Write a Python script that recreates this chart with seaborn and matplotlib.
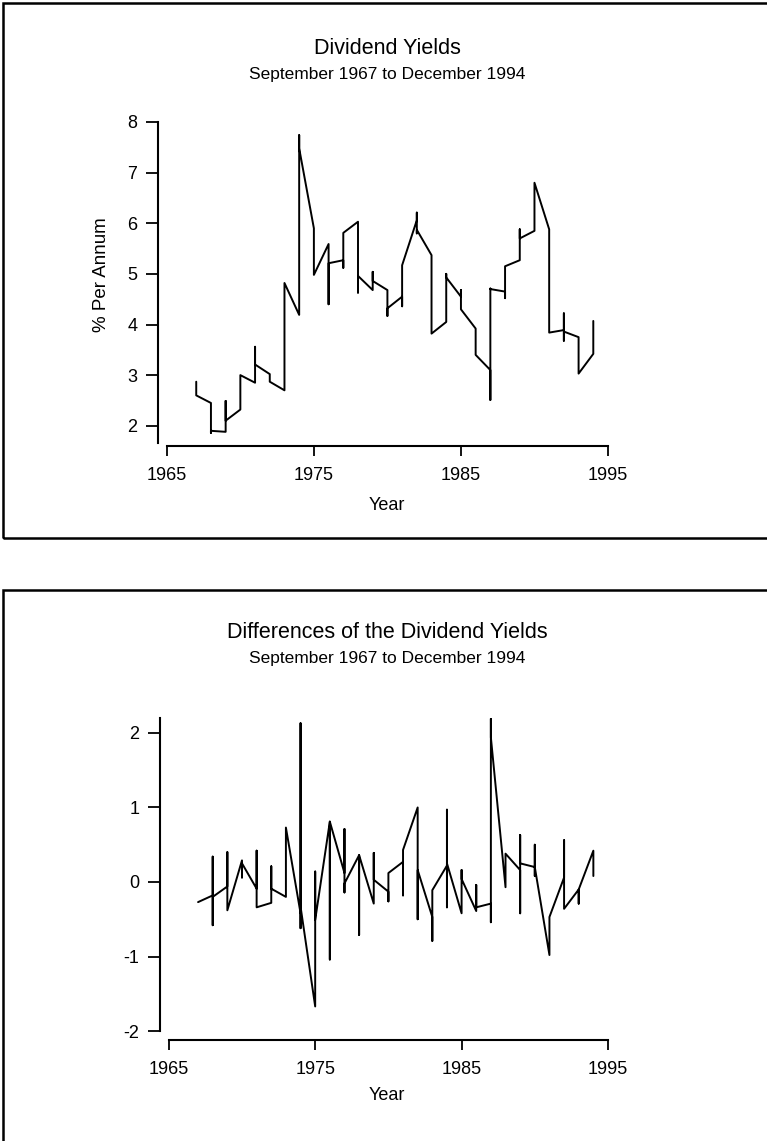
import matplotlib
matplotlib.use("Agg")
import matplotlib.pyplot as plt
from matplotlib.patches import Rectangle
import pandas as pd
import seaborn as sns

sns.set_theme(style="white")
plt.rcParams['font.family'] = ['Liberation Sans Narrow', 'Liberation Sans', 'DejaVu Sans']
plt.rcParams['text.color'] = 'black'
plt.rcParams['axes.labelcolor'] = 'black'

W, H = 767, 1141

# values read per year (the series is drawn against the whole year, so each
# year is a short vertical run of points joined to the next year)
years = list(range(1967, 1995))

yields = [
    [2.87, 2.60], [2.45, 1.86, 1.90], [1.88, 2.49, 2.10], [2.32, 3.00],
    [2.85, 3.56, 3.21], [3.02, 2.87], [2.70, 4.82], [4.19, 7.74, 7.48],
    [5.90, 4.98], [5.59, 4.40, 5.21], [5.27, 5.12, 5.81], [6.03, 4.63, 4.96],
    [4.68, 5.04, 4.86], [4.68, 4.17, 4.32], [4.55, 4.36, 5.17], [6.06, 6.21, 5.80, 5.87],
    [5.37, 3.82], [4.05, 5.00, 4.93], [4.55, 4.68, 4.30], [3.92, 3.40],
    [3.10, 2.51, 4.71, 4.70], [4.65, 4.52, 5.15], [5.27, 5.88, 5.70], [5.85, 6.80],
    [5.88, 3.84], [3.89, 4.22, 3.68, 3.86], [3.75, 3.03], [3.42, 4.07],
]

diffs = [
    [-0.27], [-0.18, 0.34, -0.58, -0.20], [-0.06, 0.40, -0.38], [0.29, 0.06, 0.25],
    [-0.09, 0.42, -0.34], [-0.28, 0.21, -0.09], [-0.20, 0.73], [-0.42, 2.13, -0.62, -0.33],
    [-1.67, 0.14, -0.51], [0.81, -1.04, 0.81], [0.12, 0.71, -0.14, -0.02], [0.36, -0.71, 0.36],
    [-0.29, 0.39, 0.03], [-0.13, -0.26, 0.12], [0.27, -0.18, 0.43], [1.00, -0.50, 0.16],
    [-0.47, -0.79, -0.11], [0.22, 0.97, -0.34, 0.25], [-0.42, 0.16, 0.04], [-0.39, -0.04, -0.34],
    [-0.29, -0.54, 2.19, 1.94], [-0.07, 0.38], [0.16, -0.42, 0.63, 0.25], [0.20, 0.08, 0.50, 0.20],
    [-0.98, -0.47], [0.06, 0.56, -0.36], [-0.10, -0.29, -0.10], [0.42, 0.08],
]

year_ticks = [1965, 1975, 1985, 1995]


def to_frame(vals):
    rows = []
    for yr, vs in zip(years, vals):
        for v in vs:
            rows.append((yr, v))
    return pd.DataFrame(rows, columns=["year", "value"])


def px_axes(fig, left, top, right, bottom):
    return fig.add_axes([left / W, 1 - bottom / H, (right - left) / W, (bottom - top) / H])


def style(ax, ylo, yhi, ticks, spine_lo, spine_hi):
    ax.set_xlim(1964.4, 1995.0)
    ax.set_ylim(ylo, yhi)
    ax.set_facecolor("white")
    for s in ["top", "right"]:
        ax.spines[s].set_visible(False)
    for s in ["left", "bottom"]:
        ax.spines[s].set_color("black")
        ax.spines[s].set_linewidth(1.5)
    ax.spines["bottom"].set_bounds(1965, 1995)
    ax.spines["left"].set_bounds(spine_lo, spine_hi)
    ax.set_xticks(year_ticks)
    ax.set_yticks(ticks)
    ax.set_yticklabels([str(t) for t in ticks])
    ax.tick_params(axis="both", which="both", direction="out", colors="black",
                   labelcolor="black", labelsize=13, width=1.3, bottom=True, left=True)
    ax.tick_params(axis="y", length=9, pad=6)
    ax.tick_params(axis="x", length=7, pad=8)
    ax.grid(False)


fig = plt.figure(figsize=(W / 100, H / 100), dpi=100)
fig.patch.set_facecolor("white")

# panel frames
fig.patches.append(Rectangle((3 / W, 1 - 538 / H), 1.0, (538 - 3) / H, transform=fig.transFigure,
                             fill=False, edgecolor="black", linewidth=1.8))
fig.patches.append(Rectangle((3 / W, -0.05), 1.0, (1141 - 590) / H + 0.05, transform=fig.transFigure,
                             fill=False, edgecolor="black", linewidth=1.8))

# top panel
ax1 = px_axes(fig, 158, 122, 608, 446)
sns.lineplot(data=to_frame(yields), x="year", y="value", sort=False, estimator=None,
             color="black", linewidth=1.4, ax=ax1)
style(ax1, 1.60, 8.0, [2, 3, 4, 5, 6, 7, 8], 1.66, 8.0)
ax1.set_xlabel("")
ax1.set_ylabel("")
fig.text(101 / W, 1 - 275 / H, "% Per Annum", ha="center", va="center", rotation=90, fontsize=13.5)
fig.text(387 / W, 1 - 505 / H, "Year", ha="center", va="center", fontsize=13)
fig.text(387 / W, 1 - 48 / H, "Dividend Yields", ha="center", va="center", fontsize=15.5)
fig.text(387 / W, 1 - 75 / H, "September 1967 to December 1994", ha="center", va="center", fontsize=12.5)

# bottom panel
ax2 = px_axes(fig, 160, 718, 608, 1040)
sns.lineplot(data=to_frame(diffs), x="year", y="value", sort=False, estimator=None,
             color="black", linewidth=1.4, ax=ax2)
style(ax2, -2.12, 2.20, [-2, -1, 0, 1, 2], -2.0, 2.20)
ax2.set_xlabel("")
ax2.set_ylabel("")
fig.text(387 / W, 1 - 1095 / H, "Year", ha="center", va="center", fontsize=13)
fig.text(387 / W, 1 - 632 / H, "Differences of the Dividend Yields", ha="center", va="center", fontsize=15.5)
fig.text(387 / W, 1 - 658 / H, "September 1967 to December 1994", ha="center", va="center", fontsize=12.5)

fig.savefig("out.png", dpi=100, facecolor="white")
